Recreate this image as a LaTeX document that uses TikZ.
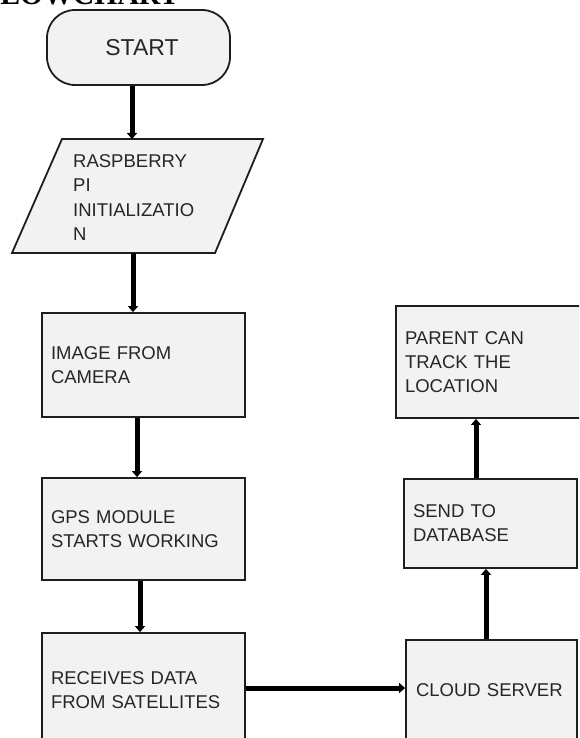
\documentclass[tikz,border=0pt]{standalone}
\usepackage{fontspec}
\setmainfont{Liberation Sans}
\newfontfamily\titlefont{Liberation Serif}
\usetikzlibrary{arrows.meta,positioning,calc}

\definecolor{boxfill}{HTML}{F2F2F2}
\definecolor{boxline}{HTML}{1E1E1E}
\definecolor{boxtext}{HTML}{262626}

\tikzset{
    stepbox/.style={draw=boxline, line width=1.8pt, fill=boxfill, rectangle,
        inner xsep=9pt, align=left, text=boxtext,
        font=\fontsize{18.5}{24}\selectfont},
    flow/.style={line width=5pt, draw=black, -{Triangle[length=6pt,width=10pt]}}
}

\begin{document}
\begin{tikzpicture}[x=1pt, y=-1pt]
    \useasboundingbox (0,0) rectangle (579,738);
    \clip (0,0) rectangle (579,738);

    \node[anchor=base west, inner sep=0pt, font=\titlefont\bfseries\fontsize{29.7}{30}\selectfont] (title) at (-18,4.5) {FLOWCHART};

    \node[draw=boxline, line width=1.8pt, fill=boxfill, rounded corners=28pt,
        minimum width=183pt, minimum height=75pt, text=boxtext,
        font=\fontsize{23}{26}\selectfont] (start) at (138.5,47.5) {\hspace{7pt}START};

    \draw[draw=boxline, line width=1.8pt, fill=boxfill] (62,139) -- (263,139) -- (215,253) -- (12,253) -- cycle;
    \coordinate (initT) at (132,139);
    \coordinate (initB) at (133,253);
    \node[anchor=west, inner sep=0pt, align=left, text=boxtext,
        font=\fontsize{18.5}{24.5}\selectfont] (init) at (73,197.5) {RASPBERRY\\PI\\INITIALIZATIO\\N};

    \node[stepbox, minimum width=203pt, minimum height=104pt, text width=185pt] (img) at (143.5,365) {IMAGE FROM\\CAMERA};
    \node[stepbox, minimum width=203pt, minimum height=102pt, text width=185pt] (gps) at (143.5,529) {GPS MODULE\\STARTS WORKING};
    \node[stepbox, minimum width=203pt, minimum height=114pt, text width=185pt] (recv) at (143.5,690) {RECEIVES DATA\\FROM SATELLITES};
    \node[stepbox, minimum width=171pt, minimum height=100pt, text width=151pt, inner xsep=10pt] (cloud) at (491.5,690) {CLOUD SERVER};
    \node[stepbox, minimum width=173pt, minimum height=89pt, text width=155pt] (send) at (490.5,523.5) {SEND TO\\DATABASE};
    \node[stepbox, minimum width=186pt, minimum height=112pt, text width=168pt] (parent) at (489,362) {PARENT CAN\\TRACK THE\\LOCATION};

    \draw[flow] (start.south -| initT) -- (initT);
    \draw[flow] (initB) -- (initB |- img.north);
    \draw[flow] ([xshift=-6.5pt]img.south) -- ([xshift=-6.5pt]img.south |- gps.north);
    \draw[flow] ([xshift=-3.5pt]gps.south) -- ([xshift=-3.5pt]gps.south |- recv.north);
    \draw[flow] ([yshift=2pt]recv.east) -- ([yshift=2pt]cloud.west);
    \draw[flow] ([xshift=-5.5pt]cloud.north) -- ([xshift=-5.5pt]cloud.north |- send.south);
    \draw[flow] ([xshift=-14.5pt]send.north) -- ([xshift=-14.5pt]send.north |- parent.south);
\end{tikzpicture}
\end{document}
